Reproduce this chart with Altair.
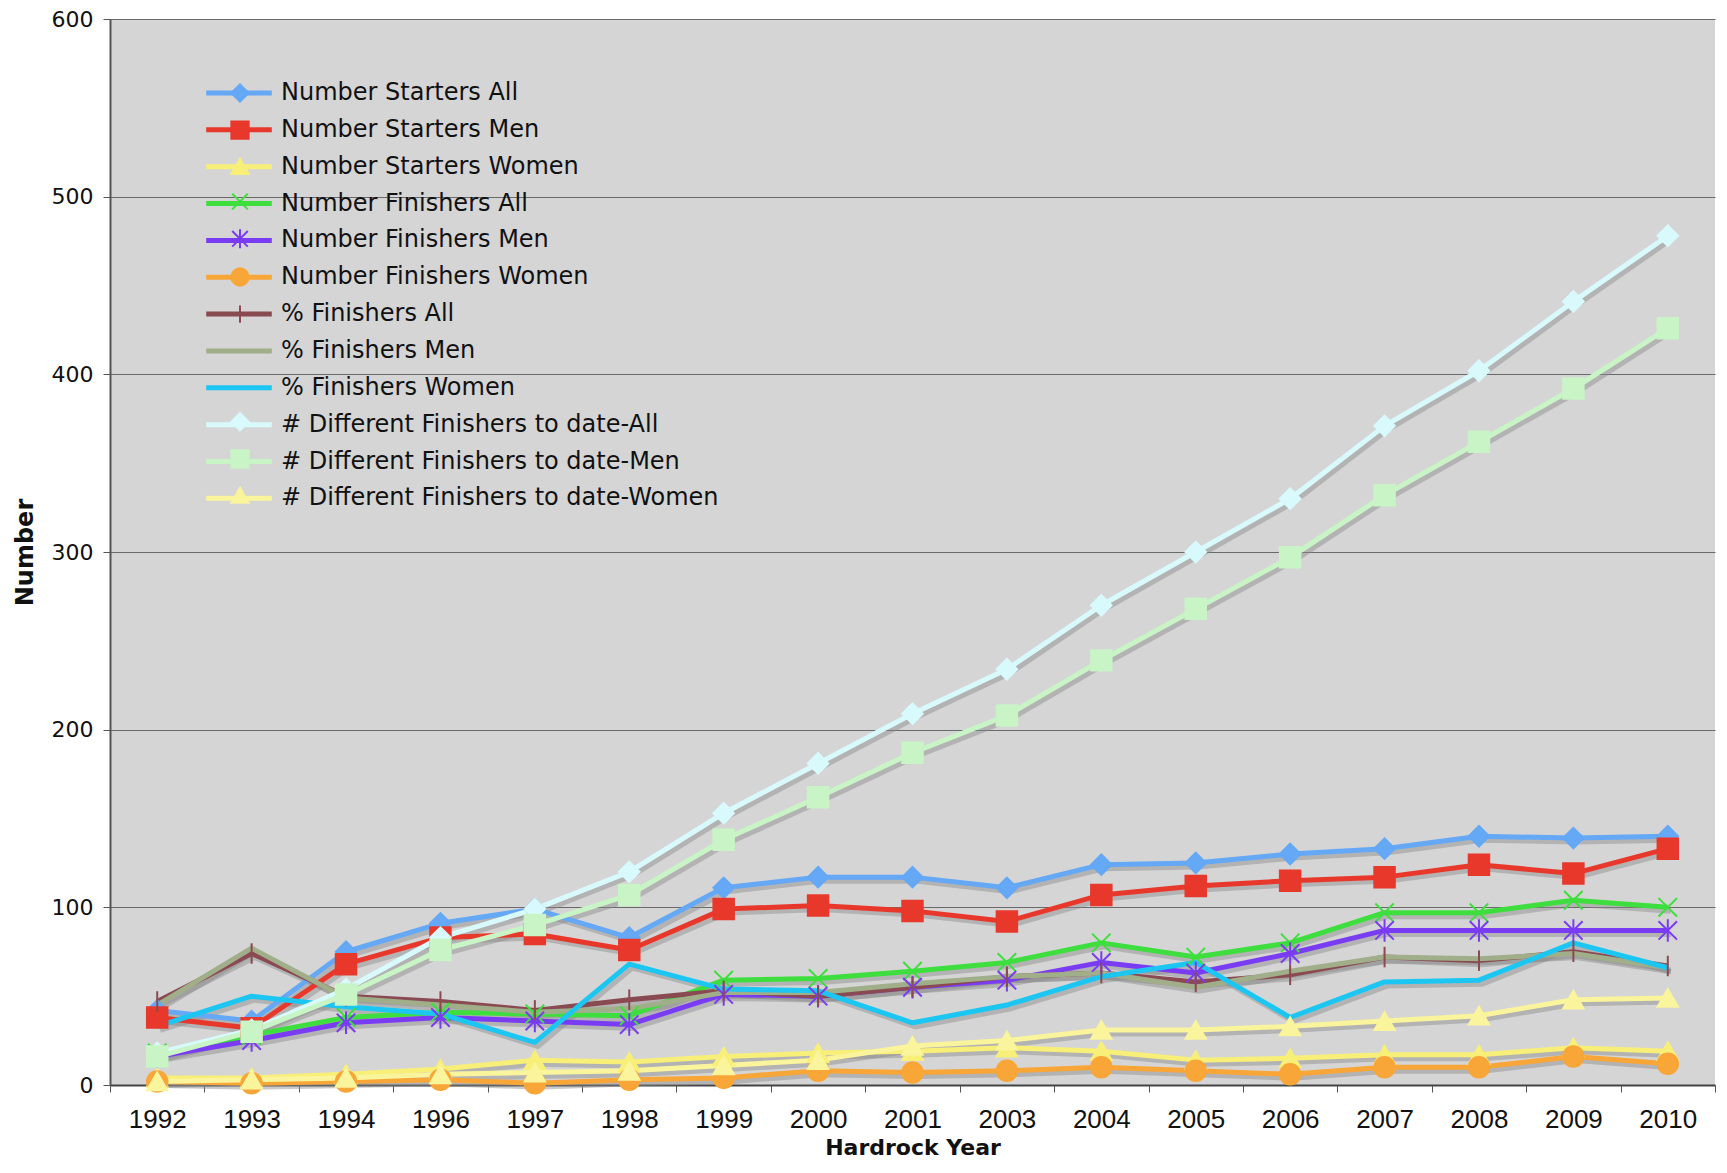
import altair as alt
import pandas as pd

years = ["1992", "1993", "1994", "1996", "1997", "1998", "1999", "2000", "2001",
         "2003", "2004", "2005", "2006", "2007", "2008", "2009", "2010"]

series = [
    "Number Starters All", "Number Starters Men", "Number Starters Women",
    "Number Finishers All", "Number Finishers Men", "Number Finishers Women",
    "% Finishers All", "% Finishers Men", "% Finishers Women",
    "# Different Finishers to date-All", "# Different Finishers to date-Men",
    "# Different Finishers to date-Women",
]

starters_all = [42, 36, 75, 91, 99, 83, 111, 117, 117, 111, 124, 125, 130, 133, 140, 139, 140]
starters_men = [38, 32, 68, 83, 85, 76, 99, 101, 98, 92, 107, 112, 115, 117, 124, 119, 133]
starters_women = [4, 4, 6, 9, 14, 13, 16, 18, 19, 21, 19, 14, 15, 17, 17, 21, 19]
finishers_all = [18, 28, 38, 41, 40, 39, 59, 60, 64, 69, 80, 72, 80, 97, 97, 104, 100]
finishers_men = [16, 25, 35, 38, 36, 34, 51, 50, 55, 59, 69, 63, 74, 87, 87, 87, 87]
finishers_women = [2, 1, 2, 3, 1, 3, 4, 8, 7, 8, 10, 8, 6, 10, 10, 16, 12]
pct_all = [47, 74, 50, 47, 42, 48, 53, 50, 55, 61, 63, 58, 62, 72, 70, 75, 67]
pct_men = [45, 77, 49, 45, 41, 43, 52, 52, 57, 61, 63, 55, 64, 72, 71, 74, 66]
pct_women = [33, 50, 44, 40, 24, 68, 54, 53, 35, 45, 61, 69, 38, 58, 59, 80, 66]
diff_all = [18, 31, 54, 83, 99, 120, 153, 181, 209, 234, 270, 300, 330, 371, 402, 441, 478]
diff_men = [16, 30, 51, 76, 90, 107, 138, 162, 187, 208, 239, 268, 297, 332, 362, 392, 426]
diff_women = [2, 3, 4, 6, 7, 8, 11, 14, 22, 25, 31, 31, 33, 36, 39, 48, 49]

all_values = [starters_all, starters_men, starters_women, finishers_all, finishers_men,
              finishers_women, pct_all, pct_men, pct_women, diff_all, diff_men, diff_women]

colors = ["#64a8f6", "#e8382c", "#f8ef78", "#3ede3e", "#7a3cf2", "#f8a638",
          "#8a4a52", "#a0ae8a", "#1cc6f2", "#d8fafc", "#c8f4c6", "#faf49c"]
widths = [5, 5, 5, 5, 5, 5, 3, 6, 6, 5, 5, 5]

X_PATH = "M-0.9,-0.9L0.9,0.9M-0.9,0.9L0.9,-0.9"
AST_PATH = "M-0.9,-0.9L0.9,0.9M-0.9,0.9L0.9,-0.9M0,-1.1L0,1.1"
TICK_PATH = "M0,-1L0,1"
NONE_PATH = "M0,0"
shapes = ["diamond", "square", "triangle-up", X_PATH, AST_PATH, "circle",
          TICK_PATH, NONE_PATH, NONE_PATH, "diamond", "square", "triangle-up"]

markers = ["m" + str(i) for i in range(len(series))]

rows = []
for s, m, vals in zip(series, markers, all_values):
    for yr, v in zip(years, vals):
        rows.append({"year": yr, "value": v, "series": s, "marker": m})
df = pd.DataFrame(rows)

x_enc = alt.X(
    "year:O", sort=years, bandPosition=0.5,
    scale=alt.Scale(type="band", paddingInner=0, paddingOuter=0),
    axis=alt.Axis(title="Hardrock Year", labelAngle=0, tickBand="extent",
                  labelFont="Liberation Sans", labelFontSize=26, labelColor="#111",
                  titleFont="DejaVu Sans", titleFontSize=22, titleFontWeight="bold",
                  titleColor="#111", grid=False, domainColor="#444", domainWidth=2,
                  tickColor="#555", tickSize=7, labelPadding=14, titlePadding=5),
)
y_enc = alt.Y(
    "value:Q", scale=alt.Scale(domain=[0, 600], nice=False),
    axis=alt.Axis(title="Number", values=[0, 100, 200, 300, 400, 500, 600],
                  labelFont="DejaVu Sans", labelFontSize=22, labelColor="#111",
                  titleFont="DejaVu Sans", titleFontSize=24, titleFontWeight="bold",
                  titleColor="#111", titlePadding=14, grid=True, gridColor="#6a6a6a",
                  gridWidth=1, domainColor="#555", domainWidth=2, tickColor="#555",
                  tickSize=7, labelPadding=10),
)

LX = 117
LY = 62

base = alt.Chart(df)

shadow = base.mark_line(color="#8a8a8a", opacity=0.45, strokeWidth=5,
                        xOffset=3, yOffset=4).encode(
    x=x_enc, y=y_enc, detail="series:N")

lines = base.mark_line(strokeJoin="round").encode(
    x=x_enc, y=y_enc,
    color=alt.Color("series:N", scale=alt.Scale(domain=series, range=colors),
                    legend=alt.Legend(title=None, orient="none", legendX=LX, legendY=LY,
                                      symbolType="M-4.1,0L4.1,0", symbolSize=256,
                                      symbolStrokeWidth=5, labelFont="DejaVu Sans",
                                      labelFontSize=24, labelColor="#111", labelLimit=0,
                                      labelOffset=30, rowPadding=12.85, padding=0)),
    strokeWidth=alt.StrokeWidth("series:N", scale=alt.Scale(domain=series, range=widths),
                                legend=None),
    order=alt.Order("year:O"),
)

mk_legend = alt.Legend(title=None, orient="none", legendX=LX + 1, legendY=LY,
                       symbolSize=300, symbolStrokeWidth=2, labelFont="DejaVu Sans",
                       labelFontSize=24, labelExpr="''", labelLimit=0, labelOffset=30,
                       rowPadding=11.2, padding=0)

points = base.mark_point(filled=True, size=420, strokeWidth=2, opacity=1).encode(
    x=x_enc, y=y_enc,
    shape=alt.Shape("marker:N", scale=alt.Scale(domain=markers, range=shapes), legend=mk_legend),
    fill=alt.Fill("marker:N", scale=alt.Scale(domain=markers, range=colors), legend=mk_legend),
    stroke=alt.Stroke("marker:N", scale=alt.Scale(domain=markers, range=colors), legend=mk_legend),
)

chart = alt.layer(shadow, lines, points).properties(
    width=1605, height=1066,
    autosize=alt.AutoSizeParams(type="none"),
    padding={"left": 102, "top": 11, "right": 4, "bottom": 78},
    background="white",
).configure_view(fill="#d5d5d5", stroke=None)

chart.save("out.html", embed_options={"renderer": "svg", "actions": False})
